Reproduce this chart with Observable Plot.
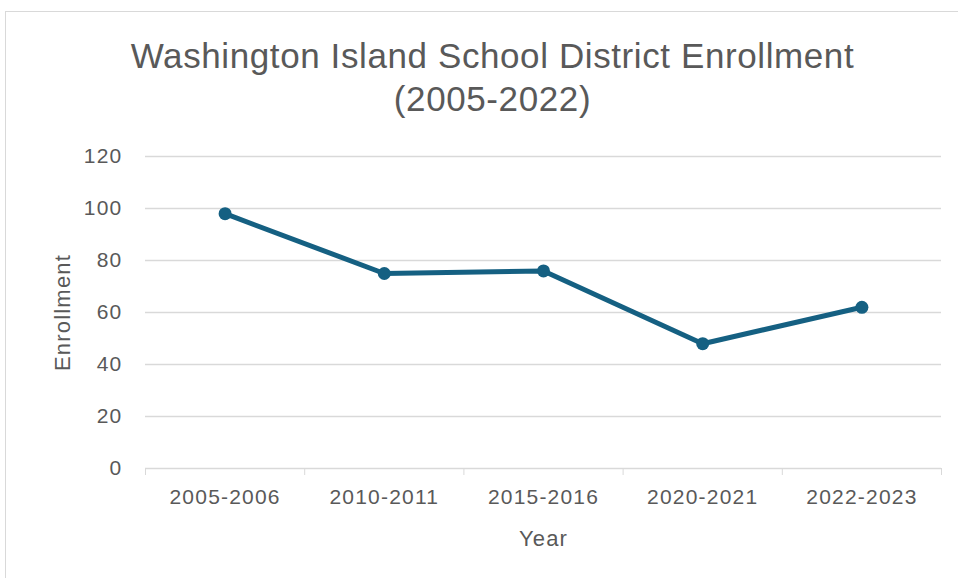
<!DOCTYPE html>
<html>
<head>
<meta charset="utf-8">
<script src="https://cdn.jsdelivr.net/npm/d3@7"></script>
<script src="https://cdn.jsdelivr.net/npm/@observablehq/plot@0.6"></script>
<style>
  html, body { margin: 0; padding: 0; overflow: hidden; background: #fff; width: 958px; height: 578px; }
  #frame { position: absolute; left: 5px; top: 11px; width: 1000px; height: 1000px; border: 1px solid #d9d9d9; box-sizing: border-box; }
  #title { position: absolute; left: 0; top: 34px; width: 985px; text-align: center; font-family: "Liberation Sans", Arial, sans-serif; font-size: 35px; letter-spacing: 0.6px; line-height: 43px; color: #595959; }
  #chart { position: absolute; left: 0; top: 130px; }
  #chart svg { background: transparent !important; }
</style>
</head>
<body>
<div id="frame"></div>
<div id="title">Washington Island School District Enrollment<br>(2005-2022)</div>
<div id="chart"></div>
<script>
const years = ["2005-2006", "2010-2011", "2015-2016", "2020-2021", "2022-2023"];
const enrollment = [98, 75, 76, 48, 62];
const yTicks = [0, 20, 40, 60, 80, 100, 120];

const data = years.map((y, i) => ({i, year: y, value: enrollment[i]}));
const boundaries = d3.range(-0.5, years.length, 1);

const plot = Plot.plot({
  width: 958,
  height: 448,
  marginLeft: 145,
  marginRight: 17,
  marginTop: 26,
  marginBottom: 110,
  style: {fontFamily: "Liberation Sans, Arial, sans-serif", fontSize: "21px", letterSpacing: "1.2px", color: "#595959", background: "transparent"},
  x: {type: "linear", domain: [-0.5, years.length - 0.5]},
  y: {domain: [0, 120]},
  marks: [
    Plot.gridY(yTicks.filter(d => d > 0), {stroke: "#d9d9d9", strokeOpacity: 1, strokeWidth: 1.3}),
    Plot.ruleY([0], {stroke: "#d9d9d9", strokeWidth: 1.5}),
    Plot.axisY({ticks: yTicks, tickSize: 0, tickPadding: 23, fill: "#595959", label: null}),
    Plot.axisX({ticks: boundaries, tickSize: 7, tickFormat: () => "", stroke: "#d9d9d9", label: null}),
    Plot.axisX({ticks: years.map((d, i) => i), tickSize: 0, tickPadding: 21, tickFormat: i => years[i], fill: "#595959", label: null}),
    Plot.text(["Enrollment"], {frameAnchor: "left", textAnchor: "middle", dx: -83, rotate: -90, fill: "#595959", fontSize: 22}),
    Plot.text(["Year"], {frameAnchor: "bottom", dy: 77, fill: "#595959", fontSize: 22}),
    Plot.line(data, {x: "i", y: "value", stroke: "#156082", strokeWidth: 5}),
    Plot.dot(data, {x: "i", y: "value", fill: "#156082", r: 6.5})
  ]
});
document.getElementById("chart").appendChild(plot);
</script>
</body>
</html>
